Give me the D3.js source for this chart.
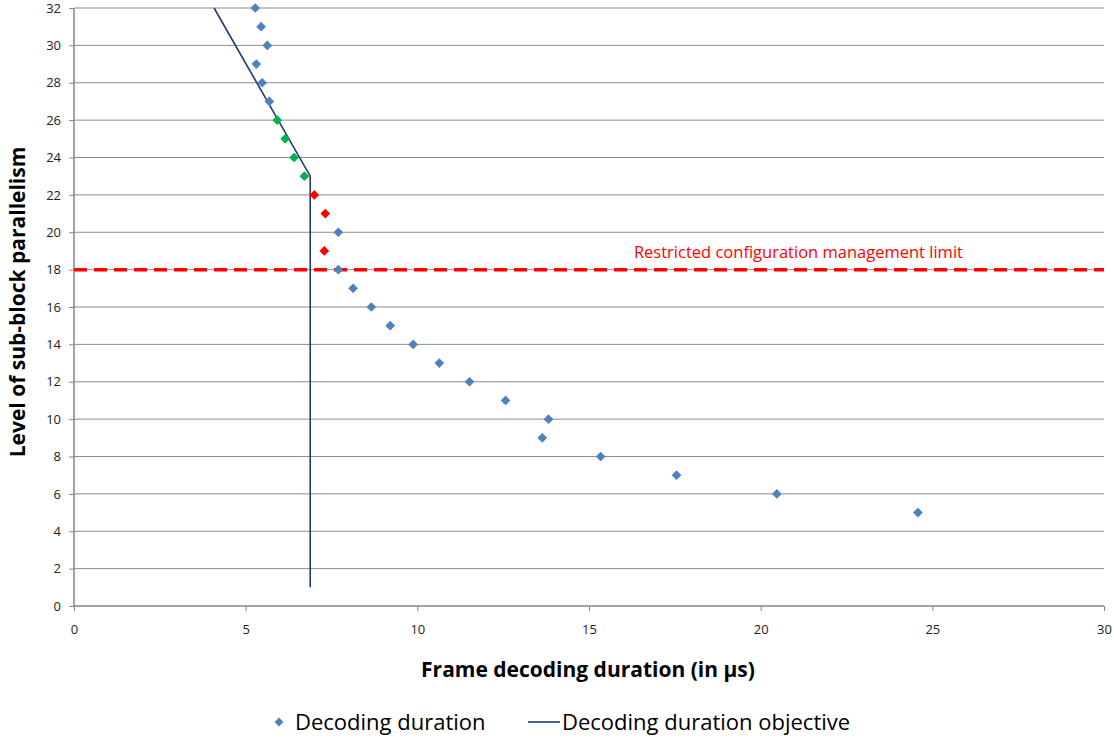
<!DOCTYPE html>
<html>
<head>
<meta charset="utf-8">
<script src="https://cdn.jsdelivr.net/npm/d3@7"></script>
<style>
body{margin:0;background:#fff}
svg{font-family:"Open Sans","Noto Sans",sans-serif}
</style>
</head>
<body>
<svg></svg>
<script>
var screen = {width:1114,height:742}
var margins = {top:8,right:10,bottom:136,left:74}

// decoding durations (µs) against parallelism level
var levels    = [32,31,30,29,28,27,26,25,24,23,22,21,20,19,18,17,16,15,14,13,12,11,10,9,8,7,6,5]
var durations = [5.28,5.45,5.63,5.31,5.48,5.69,5.92,6.15,6.41,6.71,7.0,7.32,7.70,7.29,7.70,8.13,8.66,9.21,9.88,10.64,11.52,12.57,13.82,13.64,15.34,17.55,20.47,24.58]
// point colour groups: b = normal, g = within objective, r = missed
var groups    = ["b","b","b","b","b","b","g","g","g","g","r","r","b","r","b","b","b","b","b","b","b","b","b","b","b","b","b","b"]
// objective line
var objX = [4.08,6.88,6.88]
var objY = [32,23,1]
var limitLevel = 18
var xTicks = [0,5,10,15,20,25,30]
var yTicks = [0,2,4,6,8,10,12,14,16,18,20,22,24,26,28,30,32]

var colors = {b:"#4f81bd",g:"#00b050",r:"#ff0000"}

var svg = d3.select("svg").attr("width",screen.width).attr("height",screen.height)
var width = screen.width - margins.left - margins.right
var height = screen.height - margins.top - margins.bottom

var xScale = d3.scaleLinear().domain([0,30]).range([0,width])
var yScale = d3.scaleLinear().domain([0,32]).range([height,0])

var g = svg.append("g").attr("transform","translate("+margins.left+","+margins.top+")")

//gridlines
g.selectAll(".grid").data(yTicks.filter(function(t){return t>0})).enter()
    .append("line")
    .attr("x1",0).attr("x2",width)
    .attr("y1",function(t){return yScale(t)}).attr("y2",function(t){return yScale(t)})
    .attr("stroke","#8c8c8c").attr("stroke-width",1)

//axes
var xAxis = d3.axisBottom(xScale).tickValues(xTicks).tickSize(5).tickPadding(14)
var yAxis = d3.axisLeft(yScale).tickValues(yTicks).tickSize(5).tickPadding(8)
var xg = g.append("g").attr("transform","translate(0,"+height+")").call(xAxis)
var yg = g.append("g").call(yAxis)
;[xg,yg].forEach(function(a){
    a.select(".domain").attr("stroke","#868686").attr("stroke-width",1.5)
    a.selectAll(".tick line").attr("stroke","#868686")
    a.selectAll("text").attr("font-size",13).attr("fill","#222").attr("font-family","'Open Sans',sans-serif")
})
xg.select(".domain").attr("d","M0,0H"+width)
yg.select(".domain").attr("d","M0,"+height+"V0")

//limit line
g.append("line")
    .attr("x1",0).attr("x2",width)
    .attr("y1",yScale(limitLevel)).attr("y2",yScale(limitLevel))
    .attr("stroke","#ff0000").attr("stroke-width",3.5)
    .attr("stroke-dasharray","13,7")
g.append("text")
    .attr("x",xScale(21.1)).attr("y",yScale(limitLevel)-12)
    .attr("text-anchor","middle").attr("fill","#ff0000").attr("font-size",16.5)
    .text("Restricted configuration management limit")

//objective line
var line = d3.line().x(function(d){return xScale(d[0])}).y(function(d){return yScale(d[1])})
g.append("path")
    .datum(objX.map(function(x,i){return [x,objY[i]]}))
    .attr("d",line).attr("fill","none").attr("stroke","#1f3b6f").attr("stroke-width",1.6)

//points
var diamond = d3.symbol().type(d3.symbolDiamond2).size(60)
g.selectAll(".pt").data(levels).enter()
    .append("path")
    .attr("d",diamond)
    .attr("transform",function(l,i){return "translate("+xScale(durations[i])+","+yScale(l)+")"})
    .attr("fill",function(l,i){return colors[groups[i]]})

//axis titles
svg.append("text")
    .attr("x",588).attr("y",677)
    .attr("text-anchor","middle").attr("font-weight","bold").attr("font-size",21)
    .text("Frame decoding duration (in µs)")
svg.append("text")
    .attr("transform","translate(25,302) rotate(-90)")
    .attr("text-anchor","middle").attr("font-weight","bold").attr("font-size",21)
    .text("Level of sub-block parallelism")

//legend
var lg = svg.append("g").attr("transform","translate(0,722)")
lg.append("path").attr("d",d3.symbol().type(d3.symbolDiamond2).size(50))
    .attr("transform","translate(279,0)").attr("fill",colors.b)
lg.append("text").attr("x",295).attr("y",8).attr("font-size",22).text("Decoding duration")
lg.append("line").attr("x1",528).attr("x2",560).attr("y1",0).attr("y2",0)
    .attr("stroke","#1f3b6f").attr("stroke-width",1.6)
lg.append("text").attr("x",562).attr("y",8).attr("font-size",22).text("Decoding duration objective")
</script>
</body>
</html>
